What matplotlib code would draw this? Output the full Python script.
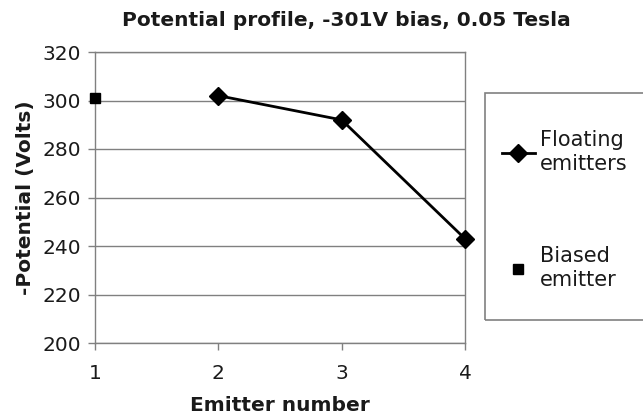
import matplotlib
matplotlib.use("Agg")
import matplotlib.pyplot as plt
from matplotlib.patches import Rectangle

floating_x = [2, 3, 4]
floating_y = [302, 292, 243]
biased_x = [1]
biased_y = [301]
yticks = [200, 220, 240, 260, 280, 300, 320]
xticks = [1, 2, 3, 4]

plt.rcParams['font.family'] = ['DejaVu Sans']
fig = plt.figure(figsize=(6.43, 4.17), dpi=100)
ax = fig.add_axes([95/643, 1-343/417, (465-95)/643, (343-52)/417])

grid_c = '#808080'
txt_c = '#1a1a1a'
ax.set_ylim(200, 320)
ax.set_xlim(1, 4)
ax.set_yticks(yticks)
ax.set_xticks(xticks)
ax.yaxis.grid(True, color=grid_c, linewidth=1)
ax.set_axisbelow(True)
for s in ax.spines.values():
    s.set_color(grid_c)
    s.set_linewidth(1)
ax.tick_params(axis='both', colors=grid_c, labelcolor=txt_c, labelsize=14.5,
               length=5, width=1, direction='out')
ax.tick_params(axis='y', pad=5)
ax.tick_params(axis='x', pad=10)

l1, = ax.plot(floating_x, floating_y, color='black', linewidth=2, marker='D',
              markersize=9, clip_on=False, zorder=5, label='Floating\nemitters')
l2, = ax.plot(biased_x, biased_y, linestyle='none', color='black', marker='s',
              markersize=7, clip_on=False, zorder=5, label='Biased\nemitter')

fig.text(346/643, 1-26/417, 'Potential profile, -301V bias, 0.05 Tesla',
         fontsize=14.5, fontweight='bold', ha='center', va='baseline', color=txt_c)
ax.set_xlabel('Emitter number', fontsize=14.5, fontweight='bold', color=txt_c)
ax.xaxis.set_label_coords(0.5, -(396-343)/291)
ax.set_ylabel('-Potential (Volts)', fontsize=14.5, fontweight='bold', color=txt_c)
ax.yaxis.set_label_coords(-(95-35)/370, 0.5)

fig.patches.append(Rectangle((485/643, 1-320/417), 0.4, (320-93)/417,
                             transform=fig.transFigure, fill=False,
                             edgecolor=grid_c, linewidth=1.2))
fig.legend(handles=[l1, l2], loc='center left',
           bbox_to_anchor=(483/643, 1-210/417), frameon=False, fontsize=15,
           labelspacing=3.5, handlelength=1.6, handletextpad=0.25,
           labelcolor=txt_c)

fig.savefig('out.png', dpi=100)
